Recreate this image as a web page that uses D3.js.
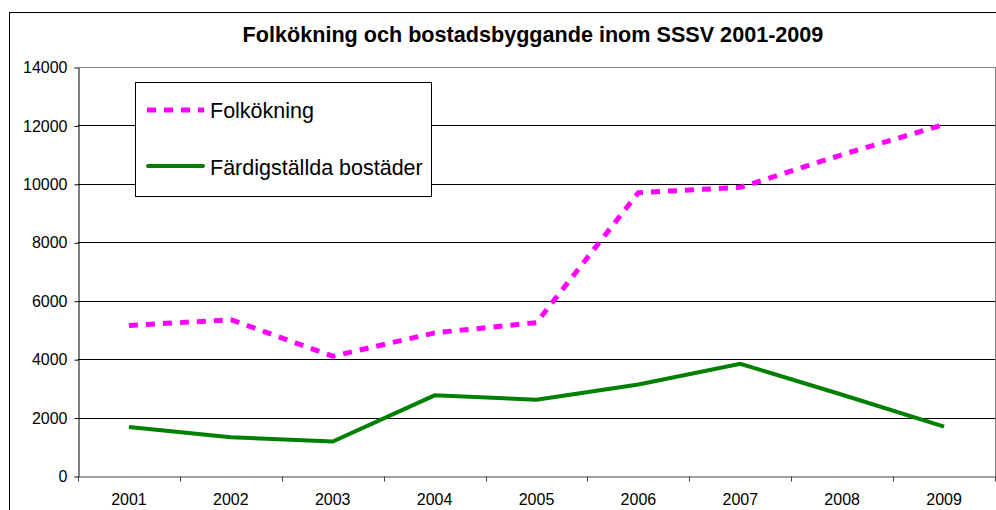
<!DOCTYPE html>
<html>
<head>
<meta charset="utf-8">
<script src="https://cdn.jsdelivr.net/npm/d3@7"></script>
<style>
    body { margin: 0; background: #fff; }
    text { font-family: "Liberation Sans", Arial, sans-serif; fill: #000; }
    .tickLabel { font-size: 16px; }
</style>
</head>
<body>
<svg id="chart" width="996" height="510"></svg>
<script>
"use strict";

const years = ["2001", "2002", "2003", "2004", "2005", "2006", "2007", "2008", "2009"];
const folkokning = [5150, 5350, 4100, 4900, 5250, 9700, 9880, 11000, 12030];
const bostader = [1680, 1330, 1180, 2760, 2610, 3130, 3840, 2780, 1690];
const yTicks = [0, 2000, 4000, 6000, 8000, 10000, 12000, 14000];
const seriesNames = ["Folkökning", "Färdigställda bostäder"];
const title = "Folkökning och bostadsbyggande inom SSSV 2001-2009";

const width = 996;
const height = 510;
const plot = { left: 78, right: 995, top: 67, bottom: 476 };

const svg = d3.select("svg#chart");

// outer chart frame
svg.append("rect")
    .attr("x", 9.5).attr("y", 12.5)
    .attr("width", 1000).attr("height", 520)
    .attr("fill", "#fff").attr("stroke", "#000");

svg.append("text")
    .attr("x", 533).attr("y", 42)
    .attr("text-anchor", "middle")
    .style("font-size", "21.6px").style("font-weight", "bold")
    .text(title);

let xScale = d3.scaleBand()
    .domain(years)
    .range([plot.left, plot.right]);
let yScale = d3.scaleLinear()
    .domain([0, 14000])
    .range([plot.bottom, plot.top]);

// gridlines
svg.append("g")
    .selectAll("line")
    .data(yTicks.filter(d => d > 0))
    .enter()
    .append("line")
    .attr("x1", plot.left).attr("x2", plot.right)
    .attr("y1", d => Math.round(yScale(d)) + 0.5)
    .attr("y2", d => Math.round(yScale(d)) + 0.5)
    .attr("stroke", d => d === 14000 ? "#808080" : "#000");

// plot area right border
svg.append("line")
    .attr("x1", plot.right + 0.5).attr("x2", plot.right + 0.5)
    .attr("y1", plot.top).attr("y2", plot.bottom + 5)
    .attr("stroke", "#808080");

// y axis
let yAxis = d3.axisLeft(yScale).tickValues(yTicks).tickFormat(d3.format("d"))
    .tickSize(4).tickPadding(7).tickSizeOuter(0);
let yG = svg.append("g")
    .attr("transform", `translate(${plot.left + 0.5},0.5)`)
    .call(yAxis);
yG.selectAll("text").attr("class", "tickLabel");
yG.selectAll("line, path").attr("stroke", "#000");

// x axis: labels centered in bands, ticks at band boundaries
let xAxis = d3.axisBottom(xScale).tickSize(0).tickPadding(17).tickSizeOuter(0);
let xG = svg.append("g")
    .attr("transform", `translate(0,${plot.bottom + 0.5})`)
    .call(xAxis);
xG.selectAll("text").attr("class", "tickLabel");
xG.select("path").attr("stroke", "#404040");
let edges = years.map(d => xScale(d)).concat([plot.right]);
xG.selectAll("line.edgeTick")
    .data(edges)
    .enter()
    .append("line")
    .attr("class", "edgeTick")
    .attr("x1", d => Math.round(d) + 0.5).attr("x2", d => Math.round(d) + 0.5)
    .attr("y1", 0).attr("y2", 5)
    .attr("stroke", "#404040");

let line = d3.line()
    .x((d, i) => xScale(years[i]) + xScale.bandwidth() / 2)
    .y(d => yScale(d));

svg.append("path")
    .datum(bostader)
    .attr("d", line)
    .attr("fill", "none")
    .attr("stroke", "#008000")
    .attr("stroke-width", 4);

svg.append("path")
    .datum(folkokning)
    .attr("d", line)
    .attr("fill", "none")
    .attr("stroke", "#ff00ff")
    .attr("stroke-width", 5)
    .attr("stroke-dasharray", "9,8");

// legend
let legend = svg.append("g");
legend.append("rect")
    .attr("x", 135.5).attr("y", 82.5)
    .attr("width", 296).attr("height", 114)
    .attr("fill", "#fff").attr("stroke", "#000");
legend.append("line")
    .attr("x1", 147).attr("x2", 204).attr("y1", 110).attr("y2", 110)
    .attr("stroke", "#ff00ff").attr("stroke-width", 5)
    .attr("stroke-dasharray", "9,8");
legend.append("line")
    .attr("x1", 148).attr("x2", 203).attr("y1", 166).attr("y2", 166)
    .attr("stroke", "#008000").attr("stroke-width", 4)
    .attr("stroke-linecap", "round");
legend.selectAll("text")
    .data(seriesNames)
    .enter()
    .append("text")
    .attr("x", 210)
    .attr("y", (d, i) => 118 + i * 57)
    .style("font-size", "21.5px")
    .text(d => d);
</script>
</body>
</html>
